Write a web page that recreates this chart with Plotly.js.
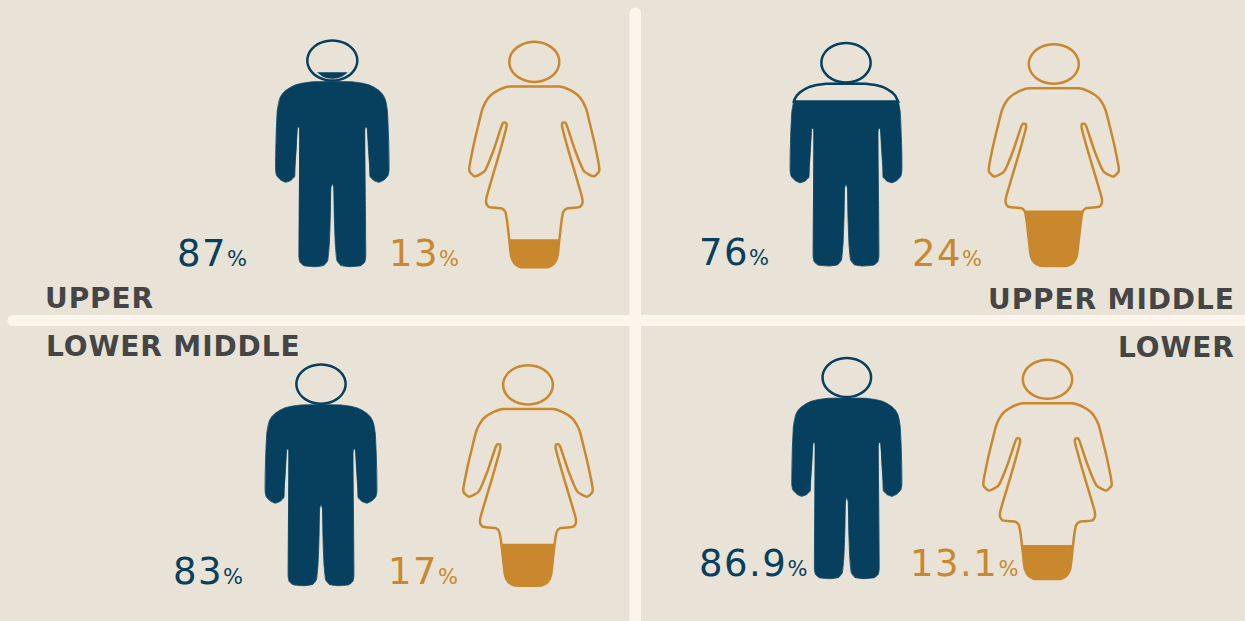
<!DOCTYPE html>
<html>
<head>
<meta charset="utf-8">
<script src="https://cdn.plot.ly/plotly-3.0.1.min.js"></script>
<style>html,body{margin:0;padding:0;background:#e8e3d6;overflow:hidden}</style>
</head>
<body>
<div id="chart" style="width:1245px;height:621px"></div>
<script>
// Values
const classes = ['UPPER', 'UPPER MIDDLE', 'LOWER MIDDLE', 'LOWER'];
const maleShare = ['87', '76', '83', '86.9'];
const femaleShare = ['13', '24', '17', '13.1'];
// height of the coloured part of each pictogram, as drawn in the picture (share of figure height)
const maleLevel = [0.86, 0.738, 0.82, 0.825];
const femaleLevel = [0.124, 0.25, 0.19, 0.155];

// Pictogram outlines (half figure, mirrored in code)
const manHalf = [[0,153],[60,154],[90,158],[110,163],[125,170],[140,180],[150,190],[157,202],[161,215],[165,240],[168,300],[170,370],[170,420],[167,435],[155,448],[140,455],[125,450],[113,438],[112,410],[108,350],[104,290],[99,290],[97.5,300],[98,400],[99,500],[100,620],[100,680],[97,695],[85,705],[50,708],[25,704],[14,690],[9,640],[6,560],[4,470],[0,458]];
const womanHalf = [[0,170],[75,170],[95,175],[112,183],[127,193],[139,205],[155,235],[169,290],[182,345],[195,415],[194,425],[182,437],[175,438],[152,426],[147,420],[122,360],[97,285],[93,278],[85,278],[83,287],[102,360],[127,445],[144,505],[144,520],[137,530],[117,533],[97,535],[87,545],[82,570],[75,630],[69,680],[59,700],[42,710],[20,711],[0,711]];
const headQuarter = [[1,0],[0.966,0.259],[0.866,0.5],[0.707,0.707],[0.5,0.866],[0.259,0.966],[0,1]];

// Figure placement: centre x, top y, bottom y, horizontal scale
const manCx = [332.3, 846, 321, 846.8];
const manTop = [40.5, 43, 364.5, 358];
const manBottom = [266.7, 266, 585.7, 578.7];
const manSx = [0.3335, 0.3285, 0.3285, 0.3235];
const womanCx = [534.3, 1053.8, 528, 1047.5];
const womanTop = [41.5, 44, 365, 359.5];
const womanBottom = [267.3, 266, 585.7, 579];
const womanSx = [0.3333, 0.3333, 0.3316, 0.329];

// Label positions
const maleLabelX = [177, 699, 173, 699];
const femaleLabelX = [389, 912, 388, 910];
const labelBase = [268, 266.5, 586, 578];
const femaleLabelBase = [268, 268, 586, 578];
const classX = [45, 1234.5, 46, 1234.5];
const classBase = [310, 311, 358, 359];
const classAnchor = ['left', 'right', 'left', 'right'];

const NAVY = '#07405e', ORANGE = '#c9882e', BG = '#e8e3d6', RULE = '#fdf5ec', INK = '#454545';

function mirrored(half) {
  const back = half.slice(1, -1).reverse().map(p => [-p[0], p[1]]);
  return half.concat(back);
}
function ellipse(rx, ry, cy) {
  const q = headQuarter;
  const pts = [];
  q.forEach(p => pts.push([p[0], p[1]]));
  q.slice(0, -1).reverse().forEach(p => pts.push([-p[0], p[1]]));
  q.slice(1).forEach(p => pts.push([-p[0], -p[1]]));
  q.slice(1, -1).reverse().forEach(p => pts.push([p[0], -p[1]]));
  return pts.map(p => [p[0] * rx, cy + p[1] * ry]);
}
function clip(poly, yc, keepBelow) {
  const inside = p => keepBelow ? p[1] >= yc : p[1] <= yc;
  const out = [];
  for (let i = 0; i < poly.length; i++) {
    const a = poly[i], b = poly[(i + 1) % poly.length];
    const ain = inside(a), bin = inside(b);
    if (ain) out.push(a);
    if (ain !== bin) {
      const t = (yc - a[1]) / (b[1] - a[1]);
      out.push([a[0] + t * (b[0] - a[0]), yc]);
    }
  }
  return out;
}
function figure(half, headCy, yMin, yMax, cx, top, bottom, sx, level, color, bodyWidth, smooth) {
  const sy = (bottom - top) / (yMax - yMin);
  const mapX = p => cx + p[0] * sx;
  const mapY = p => top + (p[1] - yMin) * sy;
  const collect = polys => {
    const xs = [], ys = [];
    polys.forEach(poly => {
      if (!poly.length) return;
      poly.concat([poly[0]]).forEach(p => { xs.push(mapX(p)); ys.push(mapY(p)); });
      xs.push(null); ys.push(null);
    });
    return [xs, ys];
  };
  const body = mirrored(half);
  const head = ellipse(75, 60, headCy);
  const inner = ellipse(60, 55, headCy);
  const yc = yMin + (1 - level) * (yMax - yMin);
  const [fx, fy] = collect([clip(body, yc, true), clip(inner, yc, true)]);
  const [bx, by] = collect([body]);
  const [hx, hy] = collect([head]);
  const [ux, uy] = collect([clip(body, yc, false)]);
  const base = {mode: 'lines', hoverinfo: 'skip', showlegend: false};
  const out = [
    Object.assign({x: fx, y: fy, fill: 'toself', fillcolor: color, line: {width: 0, color: color}}, base),
    Object.assign({x: bx, y: by, line: {width: bodyWidth, color: color, shape: smooth ? 'spline' : 'linear', smoothing: 0.5}}, base),
    Object.assign({x: hx, y: hy, line: {width: 2.5, color: color, shape: 'spline', smoothing: 0.8}}, base)
  ];
  if (bodyWidth < 2 && ux.length) {
    out.push(Object.assign({x: ux, y: uy, line: {width: 2.5, color: color}}, base));
  }
  return out;
}

let traces = [];
classes.forEach((c, i) => {
  traces = traces.concat(figure(manHalf, 90, 30, 708, manCx[i], manTop[i], manBottom[i], manSx[i], maleLevel[i], NAVY, 0.8, true));
  traces = traces.concat(figure(womanHalf, 96, 35, 711, womanCx[i], womanTop[i], womanBottom[i], womanSx[i], femaleLevel[i], ORANGE, 2.5, true));
});

const FONT = 'DejaVu Sans, Verdana, sans-serif';
const annotations = [];
function label(x, base, text, color) {
  annotations.push({
    x: x, y: base, xref: 'x', yref: 'y', xanchor: 'left', yanchor: 'bottom', yshift: -9, xshift: -2,
    showarrow: false, align: 'left',
    text: '<span style="letter-spacing:1.5px">' + text + '</span><span style="font-size:21px">%</span>',
    font: {family: FONT, size: 37, color: color}
  });
}
classes.forEach((c, i) => {
  label(maleLabelX[i], labelBase[i], maleShare[i], NAVY);
  label(femaleLabelX[i], femaleLabelBase[i], femaleShare[i], ORANGE);
  annotations.push({
    x: classX[i], y: classBase[i], xref: 'x', yref: 'y', xanchor: classAnchor[i], yanchor: 'bottom', yshift: -7,
    xshift: classAnchor[i] === 'left' ? -2 : 2,
    showarrow: false, text: '<b><span style="letter-spacing:0.9px">' + c + '</span></b>',
    font: {family: FONT, size: 28, color: INK}
  });
});

const shapes = [
  {type: 'rect', xref: 'x', yref: 'y', x0: 13, x1: 1245, y0: 315, y1: 326, fillcolor: RULE, line: {width: 0}, layer: 'below'},
  {type: 'circle', xref: 'x', yref: 'y', x0: 7.5, x1: 18.5, y0: 315, y1: 326, fillcolor: RULE, line: {width: 0}, layer: 'below'},
  {type: 'rect', xref: 'x', yref: 'y', x0: 629.5, x1: 641, y0: 13, y1: 621, fillcolor: RULE, line: {width: 0}, layer: 'below'},
  {type: 'circle', xref: 'x', yref: 'y', x0: 629.5, x1: 641, y0: 7.5, y1: 19, fillcolor: RULE, line: {width: 0}, layer: 'below'}
];

const layout = {
  width: 1245, height: 621,
  margin: {l: 0, r: 0, t: 0, b: 0},
  paper_bgcolor: BG, plot_bgcolor: BG,
  showlegend: false,
  xaxis: {range: [0, 1245], visible: false, fixedrange: true},
  yaxis: {range: [621, 0], visible: false, fixedrange: true},
  shapes: shapes,
  annotations: annotations
};
Plotly.newPlot('chart', traces, layout, {displayModeBar: false, staticPlot: true});
</script>
</body>
</html>
